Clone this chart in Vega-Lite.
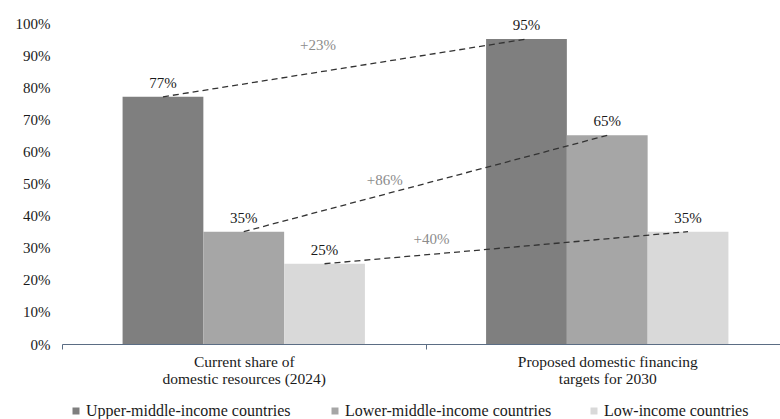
{
  "$schema": "https://vega.github.io/schema/vega-lite/v6.json",
  "width": 718,
  "height": 321,
  "autosize": "none",
  "padding": {"left": 62, "top": 23, "right": 0, "bottom": 75},
  "background": "white",
  "config": {
    "font": "'Liberation Serif', 'Times New Roman', 'DejaVu Serif', serif",
    "view": {"stroke": null},
    "text": {"font": "'Liberation Serif', 'Times New Roman', 'DejaVu Serif', serif"},
    "axis": {"grid": false, "labelFont": "'Liberation Serif', 'Times New Roman', 'DejaVu Serif', serif", "labelColor": "#1a1a1a", "title": null},
    "legend": {"labelFont": "'Liberation Serif', 'Times New Roman', 'DejaVu Serif', serif"}
  },
  "data": {
    "values": [
      {"period": "Current share of\ndomestic resources (2024)", "income": "Upper-middle-income countries", "share": 0.77, "change": "+23%"},
      {"period": "Current share of\ndomestic resources (2024)", "income": "Lower-middle-income countries", "share": 0.35, "change": "+86%"},
      {"period": "Current share of\ndomestic resources (2024)", "income": "Low-income countries", "share": 0.25, "change": "+40%"},
      {"period": "Proposed domestic financing\ntargets for 2030", "income": "Upper-middle-income countries", "share": 0.95},
      {"period": "Proposed domestic financing\ntargets for 2030", "income": "Lower-middle-income countries", "share": 0.65},
      {"period": "Proposed domestic financing\ntargets for 2030", "income": "Low-income countries", "share": 0.35}
    ]
  },
  "encoding": {
    "x": {
      "field": "period",
      "type": "nominal",
      "sort": null,
      "scale": {"range": [0, 727], "paddingInner": 0, "paddingOuter": 0},
      "axis": {
        "labelAngle": 0,
        "labelExpr": "split(datum.label, '\\n')",
        "labelFontSize": 15.5,
        "labelLineHeight": 17.5,
        "labelPadding": 5,
        "labelLimit": 400,
        "domainColor": "#5b6d84",
        "tickColor": "#5b6d84",
        "tickBand": "extent",
        "tickSize": 5
      }
    },
    "xOffset": {
      "field": "income",
      "type": "nominal",
      "sort": ["Upper-middle-income countries", "Lower-middle-income countries", "Low-income countries"],
      "scale": {"paddingInner": 0, "paddingOuter": 0.75}
    },
    "y": {
      "field": "share",
      "type": "quantitative",
      "scale": {"domain": [0, 1]},
      "axis": {
        "values": [0, 0.1, 0.2, 0.3, 0.4, 0.5, 0.6, 0.7, 0.8, 0.9, 1],
        "format": ".0%",
        "domain": false,
        "ticks": false,
        "labelFontSize": 15,
        "labelPadding": 12
      }
    }
  },
  "layer": [
    {
      "mark": {"type": "bar"},
      "encoding": {
        "color": {
          "field": "income",
          "type": "nominal",
          "scale": {
            "domain": ["Upper-middle-income countries", "Lower-middle-income countries", "Low-income countries"],
            "range": ["#7f7f7f", "#a6a6a6", "#d9d9d9"]
          },
          "legend": {
            "title": null,
            "orient": "none",
            "legendX": 6,
            "legendY": 380,
            "direction": "horizontal",
            "gridAlign": "all",
            "symbolType": "square",
            "symbolSize": 49,
            "symbolStrokeWidth": 0,
            "labelFontSize": 16,
            "labelColor": "#1a1a1a",
            "labelOffset": 2,
            "labelLimit": 300,
            "columnPadding": 34
          }
        }
      }
    },
    {
      "mark": {"type": "text", "baseline": "alphabetic", "dy": -9, "fontSize": 15, "color": "#1a1a1a"},
      "encoding": {"text": {"field": "share", "type": "quantitative", "format": ".0%"}}
    },
    {
      "mark": {"type": "line", "color": "#333333", "strokeWidth": 1.3, "strokeDash": [6, 4]},
      "encoding": {"detail": {"field": "income", "type": "nominal"}}
    },
    {
      "transform": [{"filter": "datum.income === 'Upper-middle-income countries' && isValid(datum.change)"}],
      "mark": {"type": "text", "baseline": "alphabetic", "dx": 155, "dy": -47, "fontSize": 15, "color": "#8c8c8c"},
      "encoding": {"text": {"field": "change", "type": "nominal"}}
    },
    {
      "transform": [{"filter": "datum.income === 'Lower-middle-income countries' && isValid(datum.change)"}],
      "mark": {"type": "text", "baseline": "alphabetic", "dx": 141, "dy": -47, "fontSize": 15, "color": "#8c8c8c"},
      "encoding": {"text": {"field": "change", "type": "nominal"}}
    },
    {
      "transform": [{"filter": "datum.income === 'Low-income countries' && isValid(datum.change)"}],
      "mark": {"type": "text", "baseline": "alphabetic", "dx": 107, "dy": -20, "fontSize": 15, "color": "#8c8c8c"},
      "encoding": {"text": {"field": "change", "type": "nominal"}}
    }
  ]
}
